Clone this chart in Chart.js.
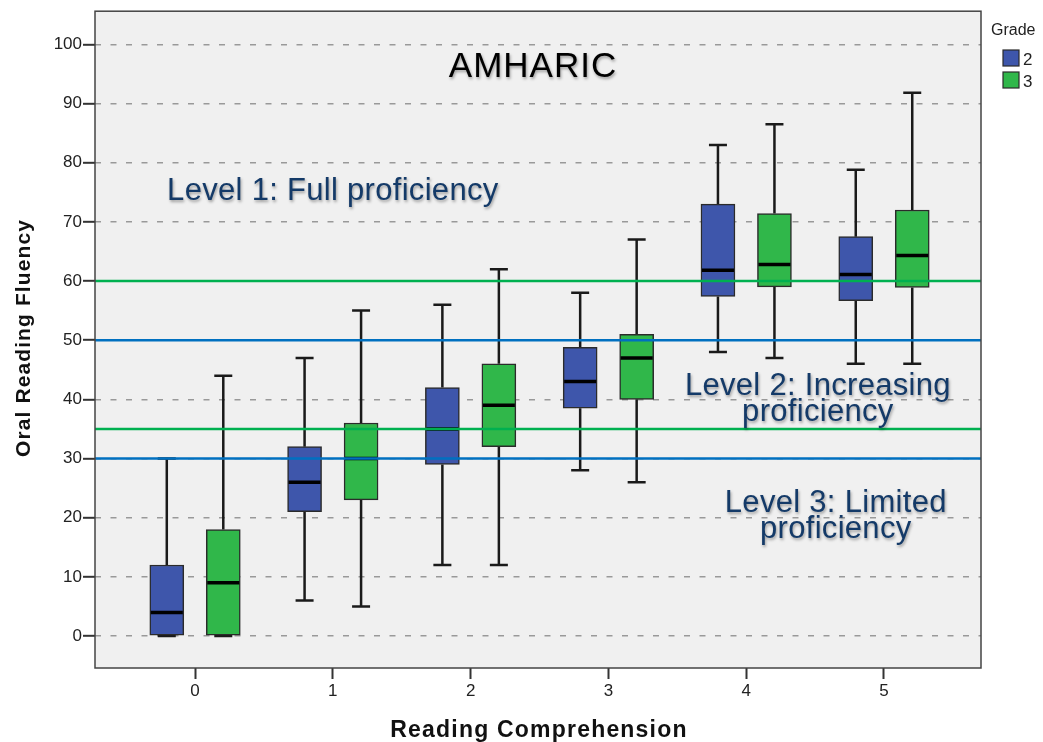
<!DOCTYPE html>
<html>
<head>
<meta charset="utf-8">
<script src="https://cdn.jsdelivr.net/npm/chart.js@4.4.1/dist/chart.umd.min.js"></script>
<style>
  html, body { margin: 0; padding: 0; background: #ffffff; }
  #wrap { width: 1043px; height: 742px; position: relative; }
</style>
</head>
<body>
<div id="wrap"><canvas id="c" width="1043" height="742"></canvas></div>
<script>
// ---- Data ----
const categories = [0, 1, 2, 3, 4, 5];
const xTickLabels = ['0', '1', '2', '3', '4', '5'];
const yTicks = [0, 10, 20, 30, 40, 50, 60, 70, 80, 90, 100];

const seriesNames = ['2', '3'];
const g2Min    = [0, 6, 12, 28, 48, 46];
const g2Q1     = [0, 21, 29, 38.5, 57.4, 56.7];
const g2Median = [4, 26, 35, 43, 61.8, 61.1];
const g2Q3     = [12, 32, 42, 48.8, 73, 67.5];
const g2Max    = [30, 47, 56, 58, 83, 78.8];

const g3Min    = [0, 5, 12, 26, 47, 46];
const g3Q1     = [0, 23, 32, 40, 59, 58.9];
const g3Median = [9, 30, 39, 47, 62.8, 64.3];
const g3Q3     = [18, 36, 46, 51, 71.4, 72];
const g3Max    = [44, 55, 62, 67, 86.5, 91.8];

const refValues = [60, 50, 35, 30];
const refKinds  = ['green', 'blue', 'green', 'blue'];

const chartTitle = 'AMHARIC';
const levelTexts = [
  { lines: ['Level 1: Full proficiency'], x: 1.0, y: 73.7 },
  { lines: ['Level 2: Increasing', 'proficiency'], x: 4.52, y: 40.8 },
  { lines: ['Level 3: Limited', 'proficiency'], x: 4.65, y: 20.9 }
];
const xTitle = 'Reading Comprehension';
const yTitle = 'Oral Reading Fluency';
const legendTitle = 'Grade';

// ---- Styles ----
const BOX_COLORS = ['#3E56AB', '#30B74A'];
const REF_COLORS = { green: '#00B050', blue: '#0070C0' };
const GROUP_OFFSET = 0.205;
const TEXT_NAVY = '#143A68';

const boxStats = [
  { min: g2Min, q1: g2Q1, med: g2Median, q3: g2Q3, max: g2Max },
  { min: g3Min, q1: g3Q1, med: g3Median, q3: g3Q3, max: g3Max }
];

const datasets = boxStats.map((s, si) => ({
  label: seriesNames[si],
  data: categories.map((c, i) => ({ x: c + (si === 0 ? -GROUP_OFFSET : GROUP_OFFSET), y: [s.q1[i], s.q3[i]] })),
  backgroundColor: BOX_COLORS[si],
  borderColor: '#2b2b2b',
  borderWidth: 1.5,
  borderSkipped: false,
  barThickness: 34,
  grouped: false
}));

function shadowText(ctx, text, x, y, color) {
  ctx.save();
  ctx.shadowColor = 'rgba(0,0,0,0.35)';
  ctx.shadowOffsetX = 1;
  ctx.shadowOffsetY = 2;
  ctx.shadowBlur = 3;
  ctx.fillStyle = color;
  ctx.fillText(text, x, y);
  ctx.restore();
}

const boxPlugin = {
  id: 'boxPlugin',
  beforeDraw(chart) {
    const { ctx, chartArea: a } = chart;
    ctx.save();
    ctx.fillStyle = '#F0F0F0';
    ctx.fillRect(a.left, a.top, a.right - a.left, a.bottom - a.top);
    ctx.restore();
  },
  beforeDatasetsDraw(chart) {
    const { ctx } = chart;
    const xs = chart.scales.x, ys = chart.scales.y;
    ctx.save();
    ctx.strokeStyle = '#1a1a1a';
    ctx.lineWidth = 2.5;
    boxStats.forEach((s, si) => {
      categories.forEach((c, i) => {
        const px = xs.getPixelForValue(c + (si === 0 ? -GROUP_OFFSET : GROUP_OFFSET));
        const yMin = ys.getPixelForValue(s.min[i]);
        const yMax = ys.getPixelForValue(s.max[i]);
        const yQ1 = ys.getPixelForValue(s.q1[i]);
        const yQ3 = ys.getPixelForValue(s.q3[i]);
        ctx.beginPath();
        ctx.moveTo(px, yMax); ctx.lineTo(px, yQ3);
        ctx.moveTo(px, yQ1); ctx.lineTo(px, yMin);
        ctx.moveTo(px - 9, yMax); ctx.lineTo(px + 9, yMax);
        ctx.moveTo(px - 9, yMin); ctx.lineTo(px + 9, yMin);
        ctx.stroke();
      });
    });
    ctx.restore();
  },
  afterDatasetsDraw(chart) {
    const { ctx, chartArea: a } = chart;
    const xs = chart.scales.x, ys = chart.scales.y;
    ctx.save();
    // medians
    ctx.strokeStyle = '#000';
    ctx.lineWidth = 3.5;
    boxStats.forEach((s, si) => {
      categories.forEach((c, i) => {
        const px = xs.getPixelForValue(c + (si === 0 ? -GROUP_OFFSET : GROUP_OFFSET));
        const py = ys.getPixelForValue(s.med[i]);
        ctx.beginPath();
        ctx.moveTo(px - 16, py); ctx.lineTo(px + 16, py);
        ctx.stroke();
      });
    });
    // reference lines
    ctx.lineWidth = 2.5;
    refValues.forEach((v, i) => {
      const py = ys.getPixelForValue(v);
      ctx.strokeStyle = REF_COLORS[refKinds[i]];
      ctx.beginPath();
      ctx.moveTo(a.left, py); ctx.lineTo(a.right, py);
      ctx.stroke();
    });
    ctx.restore();
  },
  afterDraw(chart) {
    const { ctx, chartArea: a } = chart;
    const xs = chart.scales.x, ys = chart.scales.y;
    ctx.save();
    // frame
    ctx.strokeStyle = '#444';
    ctx.lineWidth = 1.5;
    ctx.strokeRect(a.left, a.top, a.right - a.left, a.bottom - a.top);

    // chart title
    ctx.font = '35px "Liberation Sans", Arial, sans-serif';
    ctx.letterSpacing = '1px';
    ctx.textAlign = 'center';
    ctx.textBaseline = 'alphabetic';
    shadowText(ctx, chartTitle, 533, 77, '#000');

    // level texts
    ctx.font = '31px "Liberation Sans", Arial, sans-serif';
    ctx.letterSpacing = '0.3px';
    levelTexts.forEach(t => {
      const px = xs.getPixelForValue(t.x);
      const py = ys.getPixelForValue(t.y);
      t.lines.forEach((ln, k) => shadowText(ctx, ln, px, py + k * 26, TEXT_NAVY));
    });

    // axis titles
    ctx.fillStyle = '#111';
    ctx.font = 'bold 23px "Liberation Sans", Arial, sans-serif';
    ctx.letterSpacing = '1.2px';
    ctx.textAlign = 'center';
    ctx.fillText(xTitle, 539, 737);
    ctx.save();
    ctx.font = 'bold 21px "Liberation Sans", Arial, sans-serif';
    ctx.letterSpacing = '1.1px';
    ctx.translate(30, 338);
    ctx.rotate(-Math.PI / 2);
    ctx.fillText(yTitle, 0, 0);
    ctx.restore();

    // legend
    ctx.letterSpacing = '0px';
    ctx.textAlign = 'left';
    ctx.fillStyle = '#222';
    ctx.font = '16px "Liberation Sans", Arial, sans-serif';
    ctx.fillText(legendTitle, 991, 35);
    seriesNames.forEach((name, i) => {
      const top = 50 + i * 22;
      ctx.fillStyle = BOX_COLORS[i];
      ctx.fillRect(1003, top, 16, 16);
      ctx.strokeStyle = '#2b2b2b';
      ctx.lineWidth = 1.2;
      ctx.strokeRect(1003, top, 16, 16);
      ctx.fillStyle = '#222';
      ctx.font = '17px "Liberation Sans", Arial, sans-serif';
      ctx.fillText(name, 1023, top + 15);
    });
    ctx.restore();
  }
};

new Chart(document.getElementById('c'), {
  type: 'bar',
  data: { datasets },
  plugins: [boxPlugin],
  options: {
    responsive: false,
    animation: false,
    events: [],
    layout: { padding: { left: 0, right: 62, top: 10, bottom: 0 } },
    plugins: { legend: { display: false }, tooltip: { enabled: false } },
    scales: {
      x: {
        type: 'linear',
        offset: false,
        min: -0.726,
        max: 5.704,
        afterFit: s => { s.height = 74; },
        afterBuildTicks: s => { s.ticks = categories.map(v => ({ value: v })); },
        ticks: {
          callback: (v) => xTickLabels[categories.indexOf(v)],
          color: '#222',
          font: { family: '"Liberation Sans", Arial, sans-serif', size: 17 },
          padding: 2,
          maxRotation: 0
        },
        grid: { offset: false, drawOnChartArea: false, drawTicks: true, tickLength: 11, tickColor: '#333', tickWidth: 2 },
        border: { display: false }
      },
      y: {
        type: 'linear',
        min: -5.4,
        max: 105.6,
        afterFit: s => { s.width = 95; },
        afterBuildTicks: s => { s.ticks = yTicks.map(v => ({ value: v })); },
        ticks: {
          color: '#222',
          font: { family: '"Liberation Sans", Arial, sans-serif', size: 17 },
          padding: 1
        },
        grid: { color: '#999', lineWidth: 1.6, drawTicks: true, tickLength: 12, tickColor: '#333', tickWidth: 2 },
        border: { display: false, dash: [6, 9.5] }
      }
    }
  }
});
</script>
</body>
</html>
